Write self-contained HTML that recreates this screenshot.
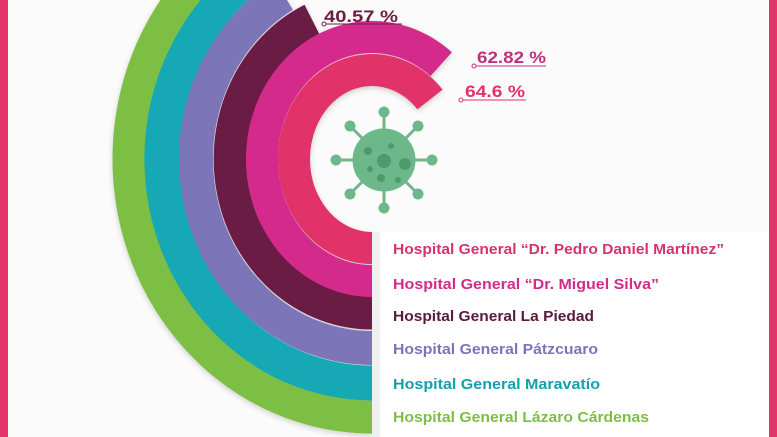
<!DOCTYPE html>
<html><head><meta charset="utf-8"><style>
html,body{margin:0;padding:0;}
body{width:777px;height:437px;overflow:hidden;background:#fafafa;position:relative;font-family:"Liberation Sans",sans-serif;}
</style></head><body>
<svg width="777" height="437" viewBox="0 0 777 437" xmlns="http://www.w3.org/2000/svg" style="position:absolute;left:0;top:0">
<defs><filter id="sh" x="-20%" y="-20%" width="140%" height="140%"><feDropShadow dx="0" dy="2" stdDeviation="3" flood-opacity="0.18"/></filter></defs>
<rect width="777" height="437" fill="#fbfbfb"/>
<g fill="none" stroke-linecap="butt" filter="url(#sh)">
<path d="M372 417 A243 258 0 0 1 305 -89" stroke="#7dbf45" stroke-width="33"/>
<path d="M372 383 A210 224 0 0 1 293.3 -48.7" stroke="#13a8b5" stroke-width="35"/>
<path d="M372 348 A176 189 0 0 1 284 -4.7" stroke="#7b74b8" stroke-width="34"/>
<path d="M372 313 A142 154 0 0 1 312 19.5" stroke="#6b1e45" stroke-width="33"/>
<path d="M372 281 A110 122 0 1 1 441.2 64.2" stroke="#d42a8c" stroke-width="32"/>
<path d="M372 248 A78 89 0 1 1 430 99.5" stroke="#e2336a" stroke-width="32"/>
</g>
<rect x="372" y="232" width="400" height="205" fill="#fff"/>
<rect x="372" y="232" width="8" height="205" fill="#f0f0f0"/>
<!-- virus -->
<g fill="#6db88a" stroke="#6db88a">
<g stroke-width="3">
<line x1="384" y1="160" x2="384" y2="112"/><line x1="384" y1="160" x2="384" y2="208"/>
<line x1="384" y1="160" x2="336" y2="160"/><line x1="384" y1="160" x2="432" y2="160"/>
<line x1="384" y1="160" x2="350" y2="126"/><line x1="384" y1="160" x2="418" y2="126"/>
<line x1="384" y1="160" x2="350" y2="194"/><line x1="384" y1="160" x2="418" y2="194"/>
</g>
<circle cx="384" cy="112" r="5"/><circle cx="384" cy="208" r="5"/><circle cx="336" cy="160" r="5"/><circle cx="432" cy="160" r="5"/>
<circle cx="350" cy="126" r="5"/><circle cx="418" cy="126" r="5"/><circle cx="350" cy="194" r="5"/><circle cx="418" cy="194" r="5"/>
<circle cx="384" cy="160" r="31"/>
</g>
<g fill="#4f9a6c"><circle cx="384" cy="161" r="7"/><circle cx="405" cy="164" r="6"/><circle cx="368" cy="151" r="4"/><circle cx="391" cy="146" r="3"/><circle cx="381" cy="178" r="4"/><circle cx="398" cy="180" r="3"/><circle cx="370" cy="169" r="3"/></g>
<!-- labels -->
<g font-weight="bold" font-size="17">
<text x="324" y="22" fill="#6b1e45" textLength="74" lengthAdjust="spacingAndGlyphs">40.57 %</text>
<line x1="324" y1="24" x2="402" y2="24" stroke="#6b1e45" stroke-width="1"/><circle cx="324" cy="24" r="2" fill="#fff" stroke="#6b1e45"/>
<text x="477" y="63" fill="#c0307f" textLength="69" lengthAdjust="spacingAndGlyphs">62.82 %</text>
<line x1="474" y1="66" x2="546" y2="66" stroke="#c0307f" stroke-width="1"/><circle cx="474" cy="66" r="2" fill="#fff" stroke="#c0307f"/>
<text x="465" y="97" fill="#e0336b" textLength="60" lengthAdjust="spacingAndGlyphs">64.6 %</text>
<line x1="461" y1="100" x2="526" y2="100" stroke="#e0336b" stroke-width="1"/><circle cx="461" cy="100" r="2" fill="#fff" stroke="#e0336b"/>
</g>
<g font-weight="bold" font-size="14.5">
<text x="393" y="254" fill="#d6336c" textLength="331" lengthAdjust="spacingAndGlyphs">Hospital General “Dr. Pedro Daniel Martínez”</text>
<text x="393" y="289" fill="#d42a8c" textLength="266" lengthAdjust="spacingAndGlyphs">Hospital General “Dr. Miguel Silva”</text>
<text x="393" y="321" fill="#5a1a3b" textLength="201" lengthAdjust="spacingAndGlyphs">Hospital General La Piedad</text>
<text x="393" y="354" fill="#7b74b8" textLength="205" lengthAdjust="spacingAndGlyphs">Hospital General Pátzcuaro</text>
<text x="393" y="389" fill="#13a0ad" textLength="207" lengthAdjust="spacingAndGlyphs">Hospital General Maravatío</text>
<text x="393" y="422" fill="#7dbf45" textLength="256" lengthAdjust="spacingAndGlyphs">Hospital General Lázaro Cárdenas</text>
</g>
<rect x="0" y="0" width="8" height="437" fill="#e2336a"/>
<rect x="769" y="0" width="8" height="437" fill="#e2336a"/>
</svg>
</body></html>
